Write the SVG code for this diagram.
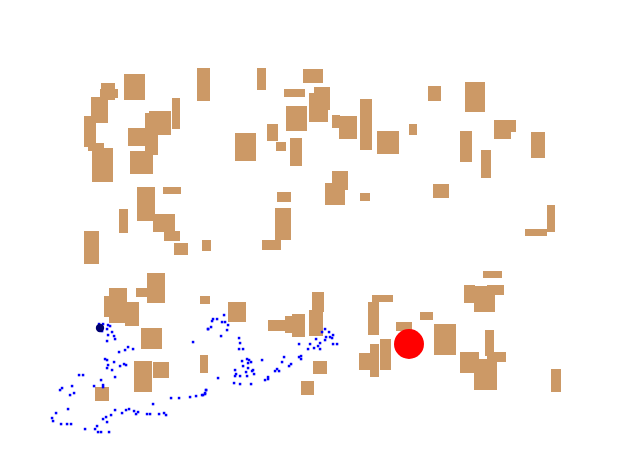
<svg xmlns="http://www.w3.org/2000/svg" xmlns:xlink="http://www.w3.org/1999/xlink" width="635" height="472" viewBox="0 0 635 472">
<style>
.o{fill:#CC9966}
.p{fill:#0000FF}
</style>
<defs>
<rect id="d" x="-1.2" y="-1.2" width="2.5" height="2.5"/>
</defs>
<rect width="635" height="472" fill="#FFFFFF"/>
<g id="obstacles">
<rect class="o" x="124" y="74" width="21" height="26"/>
<rect class="o" x="197" y="68" width="13" height="33"/>
<rect class="o" x="101" y="83" width="14" height="17"/>
<rect class="o" x="100" y="89" width="18" height="9"/>
<rect class="o" x="91" y="97" width="17" height="26"/>
<rect class="o" x="84" y="116" width="12" height="31"/>
<rect class="o" x="88" y="143" width="16" height="8"/>
<rect class="o" x="92" y="148" width="21" height="34"/>
<rect class="o" x="172" y="98" width="8" height="31"/>
<rect class="o" x="149" y="111" width="22" height="24"/>
<rect class="o" x="145" y="113" width="13" height="42"/>
<rect class="o" x="128" y="128" width="30" height="18"/>
<rect class="o" x="130" y="151" width="23" height="23"/>
<rect class="o" x="235" y="133" width="21" height="28"/>
<rect class="o" x="257" y="68" width="9" height="22"/>
<rect class="o" x="303" y="69" width="20" height="14"/>
<rect class="o" x="284" y="89" width="21" height="8"/>
<rect class="o" x="314" y="87" width="16" height="23"/>
<rect class="o" x="309" y="93" width="19" height="29"/>
<rect class="o" x="286" y="106" width="21" height="25"/>
<rect class="o" x="267" y="124" width="11" height="17"/>
<rect class="o" x="276" y="142" width="10" height="9"/>
<rect class="o" x="290" y="138" width="12" height="28"/>
<rect class="o" x="332" y="115" width="8" height="13"/>
<rect class="o" x="339" y="116" width="18" height="23"/>
<rect class="o" x="360" y="99" width="12" height="51"/>
<rect class="o" x="377" y="131" width="22" height="23"/>
<rect class="o" x="409" y="124" width="8" height="11"/>
<rect class="o" x="332" y="171" width="16" height="19"/>
<rect class="o" x="325" y="183" width="20" height="22"/>
<rect class="o" x="428" y="86" width="13" height="15"/>
<rect class="o" x="465" y="82" width="20" height="30"/>
<rect class="o" x="494" y="120" width="22" height="12"/>
<rect class="o" x="494" y="120" width="17" height="19"/>
<rect class="o" x="460" y="131" width="12" height="31"/>
<rect class="o" x="481" y="150" width="10" height="28"/>
<rect class="o" x="531" y="132" width="14" height="26"/>
<rect class="o" x="433" y="184" width="16" height="14"/>
<rect class="o" x="137" y="187" width="18" height="34"/>
<rect class="o" x="163" y="187" width="18" height="7"/>
<rect class="o" x="119" y="209" width="9" height="24"/>
<rect class="o" x="153" y="214" width="22" height="18"/>
<rect class="o" x="164" y="231" width="16" height="10"/>
<rect class="o" x="174" y="243" width="14" height="12"/>
<rect class="o" x="202" y="240" width="9" height="11"/>
<rect class="o" x="84" y="231" width="15" height="33"/>
<rect class="o" x="277" y="192" width="14" height="10"/>
<rect class="o" x="275" y="208" width="16" height="32"/>
<rect class="o" x="262" y="240" width="19" height="10"/>
<rect class="o" x="360" y="193" width="10" height="8"/>
<rect class="o" x="547" y="205" width="8" height="27"/>
<rect class="o" x="525" y="229" width="22" height="7"/>
<rect class="o" x="483" y="271" width="19" height="7"/>
<rect class="o" x="147" y="273" width="18" height="30"/>
<rect class="o" x="136" y="288" width="11" height="9"/>
<rect class="o" x="109" y="288" width="18" height="20"/>
<rect class="o" x="104" y="296" width="23" height="21"/>
<rect class="o" x="109" y="302" width="30" height="21"/>
<rect class="o" x="125" y="302" width="14" height="24"/>
<rect class="o" x="200" y="296" width="10" height="8"/>
<rect class="o" x="228" y="302" width="18" height="20"/>
<rect class="o" x="141" y="328" width="21" height="21"/>
<rect class="o" x="134" y="361" width="18" height="31"/>
<rect class="o" x="153" y="362" width="16" height="16"/>
<rect class="o" x="200" y="355" width="8" height="18"/>
<rect class="o" x="95" y="387" width="14" height="14"/>
<rect class="o" x="268" y="320" width="17" height="11"/>
<rect class="o" x="285" y="316" width="7" height="17"/>
<rect class="o" x="292" y="314" width="13" height="23"/>
<rect class="o" x="312" y="292" width="12" height="20"/>
<rect class="o" x="309" y="310" width="14" height="26"/>
<rect class="o" x="313" y="361" width="14" height="13"/>
<rect class="o" x="301" y="381" width="13" height="14"/>
<rect class="o" x="372" y="295" width="21" height="7"/>
<rect class="o" x="368" y="302" width="11" height="33"/>
<rect class="o" x="420" y="312" width="13" height="8"/>
<rect class="o" x="396" y="322" width="16" height="9"/>
<rect class="o" x="434" y="324" width="22" height="31"/>
<rect class="o" x="359" y="353" width="11" height="17"/>
<rect class="o" x="370" y="344" width="9" height="33"/>
<rect class="o" x="380" y="339" width="11" height="31"/>
<rect class="o" x="464" y="285" width="11" height="18"/>
<rect class="o" x="474" y="286" width="21" height="26"/>
<rect class="o" x="487" y="285" width="17" height="10"/>
<rect class="o" x="460" y="352" width="19" height="21"/>
<rect class="o" x="474" y="359" width="23" height="31"/>
<rect class="o" x="485" y="330" width="9" height="26"/>
<rect class="o" x="487" y="352" width="19" height="10"/>
<rect class="o" x="551" y="369" width="10" height="23"/>
</g>
<g id="particles" class="p">
<use href="#d" x="99" y="324"/><use href="#d" x="103" y="324"/><use href="#d" x="108" y="325"/><use href="#d" x="110" y="326"/>
<use href="#d" x="101" y="327"/><use href="#d" x="107" y="329"/><use href="#d" x="102" y="331"/><use href="#d" x="112" y="332"/>
<use href="#d" x="108" y="335"/><use href="#d" x="114" y="336"/><use href="#d" x="115" y="339"/><use href="#d" x="107" y="341"/>
<use href="#d" x="128" y="347"/><use href="#d" x="133" y="349"/><use href="#d" x="125" y="350"/><use href="#d" x="119" y="352"/>
<use href="#d" x="105" y="359"/><use href="#d" x="107" y="360"/><use href="#d" x="114" y="362"/><use href="#d" x="108" y="365"/>
<use href="#d" x="124" y="364"/><use href="#d" x="126" y="365"/><use href="#d" x="120" y="366"/><use href="#d" x="107" y="368"/>
<use href="#d" x="112" y="370"/><use href="#d" x="79" y="375"/><use href="#d" x="83" y="375"/><use href="#d" x="115" y="377"/>
<use href="#d" x="101" y="380"/><use href="#d" x="103" y="385"/><use href="#d" x="103" y="387"/><use href="#d" x="94" y="386"/>
<use href="#d" x="72" y="386"/><use href="#d" x="62" y="388"/><use href="#d" x="60" y="390"/><use href="#d" x="74" y="393"/>
<use href="#d" x="70" y="395"/><use href="#d" x="193" y="342"/><use href="#d" x="208" y="329"/><use href="#d" x="206" y="390"/>
<use href="#d" x="203" y="395"/><use href="#d" x="205" y="393"/><use href="#d" x="196" y="396"/><use href="#d" x="190" y="397"/>
<use href="#d" x="179" y="398"/><use href="#d" x="171" y="398"/><use href="#d" x="153" y="404"/><use href="#d" x="68" y="409"/>
<use href="#d" x="56" y="413"/><use href="#d" x="52" y="418"/><use href="#d" x="53" y="421"/><use href="#d" x="61" y="424"/>
<use href="#d" x="67" y="424"/><use href="#d" x="71" y="424"/><use href="#d" x="115" y="410"/><use href="#d" x="126" y="410"/>
<use href="#d" x="129" y="409"/><use href="#d" x="134" y="411"/><use href="#d" x="138" y="412"/><use href="#d" x="136" y="414"/>
<use href="#d" x="147" y="414"/><use href="#d" x="150" y="414"/><use href="#d" x="159" y="414"/><use href="#d" x="164" y="413"/>
<use href="#d" x="166" y="415"/><use href="#d" x="122" y="413"/><use href="#d" x="111" y="415"/><use href="#d" x="106" y="417"/>
<use href="#d" x="103" y="419"/><use href="#d" x="107" y="422"/><use href="#d" x="97" y="426"/><use href="#d" x="95" y="429"/>
<use href="#d" x="98" y="432"/><use href="#d" x="101" y="432"/><use href="#d" x="109" y="432"/><use href="#d" x="85" y="429"/>
<use href="#d" x="224" y="315"/><use href="#d" x="217" y="319"/><use href="#d" x="213" y="319"/><use href="#d" x="212" y="321"/>
<use href="#d" x="222" y="322"/><use href="#d" x="225" y="322"/><use href="#d" x="228" y="325"/><use href="#d" x="211" y="327"/>
<use href="#d" x="208" y="329"/><use href="#d" x="227" y="330"/><use href="#d" x="221" y="336"/><use href="#d" x="239" y="338"/>
<use href="#d" x="240" y="343"/><use href="#d" x="239" y="349"/><use href="#d" x="243" y="349"/><use href="#d" x="299" y="344"/>
<use href="#d" x="310" y="344"/><use href="#d" x="316" y="339"/><use href="#d" x="322" y="332"/><use href="#d" x="325" y="329"/>
<use href="#d" x="329" y="332"/><use href="#d" x="333" y="335"/><use href="#d" x="326" y="337"/><use href="#d" x="330" y="337"/>
<use href="#d" x="332" y="338"/><use href="#d" x="325" y="340"/><use href="#d" x="320" y="343"/><use href="#d" x="318" y="346"/>
<use href="#d" x="314" y="348"/><use href="#d" x="320" y="349"/><use href="#d" x="308" y="349"/><use href="#d" x="333" y="344"/>
<use href="#d" x="337" y="344"/><use href="#d" x="284" y="357"/><use href="#d" x="282" y="362"/><use href="#d" x="262" y="360"/>
<use href="#d" x="242" y="361"/><use href="#d" x="247" y="359"/><use href="#d" x="249" y="360"/><use href="#d" x="251" y="362"/>
<use href="#d" x="253" y="370"/><use href="#d" x="248" y="363"/><use href="#d" x="243" y="366"/><use href="#d" x="248" y="368"/>
<use href="#d" x="252" y="371"/><use href="#d" x="254" y="374"/><use href="#d" x="246" y="372"/><use href="#d" x="240" y="376"/>
<use href="#d" x="236" y="374"/><use href="#d" x="235" y="376"/><use href="#d" x="235" y="370"/><use href="#d" x="247" y="376"/>
<use href="#d" x="291" y="364"/><use href="#d" x="289" y="366"/><use href="#d" x="299" y="357"/><use href="#d" x="301" y="359"/>
<use href="#d" x="301" y="356"/><use href="#d" x="275" y="371"/><use href="#d" x="277" y="369"/><use href="#d" x="279" y="371"/>
<use href="#d" x="265" y="380"/><use href="#d" x="268" y="377"/><use href="#d" x="268" y="379"/><use href="#d" x="218" y="378"/>
<use href="#d" x="234" y="383"/><use href="#d" x="240" y="384"/><use href="#d" x="251" y="384"/><use href="#d" x="206" y="390"/>
<use href="#d" x="205" y="394"/><use href="#d" x="202" y="395"/>
</g>
<g id="start"><circle cx="100" cy="328" r="4.2" fill="#000070"/></g>
<g id="goal"><circle cx="409" cy="344" r="15" fill="#FF0000"/></g>
</svg>
